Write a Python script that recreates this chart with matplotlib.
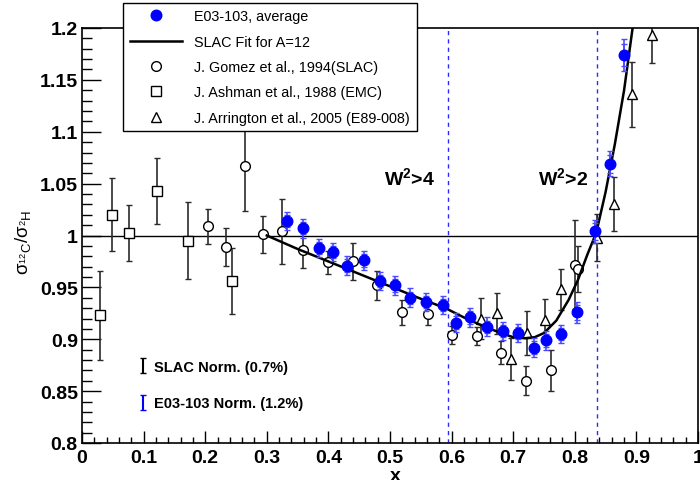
import matplotlib
matplotlib.use("Agg")
import matplotlib.pyplot as plt
from matplotlib.lines import Line2D
from matplotlib.ticker import MultipleLocator, FormatStrFormatter

plt.rcParams['font.family'] = ['Liberation Sans', 'DejaVu Sans']
plt.rcParams['mathtext.fontset'] = 'custom'
plt.rcParams['mathtext.rm'] = 'Liberation Sans'
plt.rcParams['mathtext.it'] = 'Liberation Sans'
plt.rcParams['mathtext.bf'] = 'Liberation Sans:bold'

# J. Ashman et al., 1988 (EMC)
ashman_x = [0.029, 0.049, 0.077, 0.122, 0.172, 0.243]
ashman_y = [0.923, 1.020, 1.002, 1.043, 0.995, 0.956]
ashman_err = [0.043, 0.035, 0.027, 0.032, 0.037, 0.032]

# J. Gomez et al., 1994 (SLAC)
gomez_x = [0.204, 0.234, 0.265, 0.294, 0.324, 0.359, 0.400, 0.440, 0.479,
           0.520, 0.561, 0.600, 0.641, 0.680, 0.721, 0.761, 0.800, 0.806]
gomez_y = [1.009, 0.989, 1.067, 1.001, 1.004, 0.986, 0.974, 0.975, 0.952,
           0.926, 0.924, 0.904, 0.903, 0.887, 0.860, 0.870, 0.972, 0.968]
gomez_err = [0.017, 0.018, 0.043, 0.018, 0.031, 0.017, 0.011, 0.018, 0.014,
             0.012, 0.010, 0.009, 0.009, 0.011, 0.014, 0.020, 0.043, 0.022]

# J. Arrington et al., 2005 (E89-008)
arr_x = [0.647, 0.673, 0.696, 0.723, 0.752, 0.778, 0.836, 0.864, 0.893, 0.925]
arr_y = [0.920, 0.925, 0.881, 0.906, 0.919, 0.948, 0.998, 1.030, 1.136, 1.193]
arr_err = [0.020, 0.020, 0.020, 0.021, 0.020, 0.020, 0.023, 0.026, 0.031, 0.027]

# E03-103, average
e03_x = [0.332, 0.359, 0.384, 0.407, 0.431, 0.457, 0.484, 0.508, 0.533, 0.558,
         0.586, 0.607, 0.630, 0.658, 0.683, 0.708, 0.734, 0.754, 0.778, 0.804,
         0.832, 0.857, 0.880]
e03_y = [1.014, 1.007, 0.988, 0.984, 0.971, 0.976, 0.956, 0.952, 0.940, 0.936,
         0.933, 0.916, 0.921, 0.912, 0.908, 0.906, 0.892, 0.899, 0.905, 0.926,
         1.004, 1.069, 1.174]
e03_err = [0.009, 0.009, 0.009, 0.009, 0.009, 0.009, 0.009, 0.009, 0.009, 0.009,
           0.009, 0.009, 0.009, 0.009, 0.009, 0.009, 0.009, 0.009, 0.009, 0.010,
           0.011, 0.012, 0.015]
e03_stat = [0.006, 0.006, 0.006, 0.006, 0.006, 0.006, 0.006, 0.006, 0.006, 0.006,
            0.006, 0.006, 0.006, 0.006, 0.006, 0.006, 0.006, 0.006, 0.006, 0.007,
            0.008, 0.009, 0.011]

# SLAC fit for A=12
fit_x = [0.30, 0.35, 0.40, 0.45, 0.50, 0.55, 0.59, 0.62, 0.65, 0.68, 0.70, 0.72,
         0.735, 0.75, 0.77, 0.79, 0.805, 0.82, 0.835, 0.85, 0.865, 0.88, 0.895]
fit_y = [1.000, 0.987, 0.975, 0.963, 0.951, 0.939, 0.930, 0.921, 0.913, 0.906,
         0.902, 0.901, 0.902, 0.906, 0.918, 0.938, 0.957, 0.981, 1.003, 1.042,
         1.088, 1.140, 1.205]

w2_cuts = [0.594, 0.836]

fig = plt.figure(figsize=(7.0, 4.81), dpi=100)
ax = fig.add_axes([82 / 700, 37 / 481, 616 / 700, 415 / 481])

ax.axhline(1.0, color='black', lw=1.0, zorder=1)
for xc in w2_cuts:
    ax.axvline(xc, color='#2a2aff', lw=1.0, ls=(0, (3, 3)), zorder=1)

ekw = dict(fmt='none', ecolor='#2b2b2b', elinewidth=1.2, capsize=2.5, capthick=1.0, zorder=2)
ax.errorbar(ashman_x, ashman_y, yerr=ashman_err, **ekw)
ax.errorbar(gomez_x, gomez_y, yerr=gomez_err, **ekw)
ax.errorbar(arr_x, arr_y, yerr=arr_err, **ekw)

ax.plot(ashman_x, ashman_y, 's', ms=6.8, mfc='white', mec='black', mew=1.0, zorder=3)
ax.plot(gomez_x, gomez_y, 'o', ms=7.0, mfc='white', mec='black', mew=1.0, zorder=3)
ax.plot(arr_x, arr_y, '^', ms=7.2, mfc='white', mec='black', mew=1.0, zorder=3)

ax.plot(fit_x, fit_y, color='black', lw=1.8, zorder=4)

bkw = dict(fmt='none', ecolor='#4a4aff', elinewidth=1.2, capsize=2.5, capthick=1.0, zorder=5)
ax.errorbar(e03_x, e03_y, yerr=e03_err, **bkw)
ax.errorbar(e03_x, e03_y, yerr=e03_stat, **bkw)
ax.plot(e03_x, e03_y, 'o', ms=7.6, color='#0000ff', mec='#0000ff', zorder=6)

# normalization markers
ax.errorbar([0.0985], [0.8745], yerr=[0.0075], fmt='none', ecolor='black',
            elinewidth=1.5, capsize=2.3, capthick=1.0)
ax.errorbar([0.0985], [0.8390], yerr=[0.0072], fmt='none', ecolor='#0000ff',
            elinewidth=1.5, capsize=2.3, capthick=1.0)
ax.text(0.117, 0.8735, 'SLAC Norm. (0.7%)', fontsize=10.5, fontweight='bold', va='center')
ax.text(0.117, 0.8385, 'E03-103 Norm. (1.2%)', fontsize=10.5, fontweight='bold', va='center')

ax.text(0.531, 1.056, r'W$^\mathbf{2}$>4', fontsize=14, fontweight='bold', ha='center', va='center')
ax.text(0.781, 1.056, r'W$^\mathbf{2}$>2', fontsize=14, fontweight='bold', ha='center', va='center')

ax.set_xlim(0, 1)
ax.set_ylim(0.8, 1.2)
ax.xaxis.set_major_locator(MultipleLocator(0.1))
ax.xaxis.set_minor_locator(MultipleLocator(0.02))
ax.yaxis.set_major_locator(MultipleLocator(0.05))
ax.yaxis.set_minor_locator(MultipleLocator(0.01))
ax.xaxis.set_major_formatter(FormatStrFormatter('%g'))
ax.yaxis.set_major_formatter(FormatStrFormatter('%g'))
ax.tick_params(axis='y', which='major', direction='in', length=13.5, width=1.0,
               labelsize=14, pad=3)
ax.tick_params(axis='y', which='minor', direction='in', length=7, width=1.0)
ax.tick_params(axis='x', which='major', direction='in', length=8.5, width=1.0,
               labelsize=14, pad=4)
ax.tick_params(axis='x', which='minor', direction='in', length=4.3, width=1.0)
for lab in ax.get_xticklabels() + ax.get_yticklabels():
    lab.set_fontweight('bold')
for sp in ax.spines.values():
    sp.set_linewidth(1.2)

fig.text(23 / 700, 1 - 242 / 481, r'$\sigma_{^{12}C}/\sigma_{^{2}H}$', rotation=90,
         fontsize=13.5, ha='center', va='center')
fig.text(395 / 700, 1 - 468 / 481, 'x', fontsize=14, fontweight='bold', ha='center', va='top')

handles = [
    Line2D([], [], ls='none', marker='o', ms=7.6, color='#0000ff'),
    Line2D([], [], color='black', lw=1.8),
    Line2D([], [], ls='none', marker='o', ms=7.0, mfc='white', mec='black'),
    Line2D([], [], ls='none', marker='s', ms=6.8, mfc='white', mec='black'),
    Line2D([], [], ls='none', marker='^', ms=7.2, mfc='white', mec='black'),
]
labels = ['E03-103, average', 'SLAC Fit for A=12', 'J. Gomez et al., 1994(SLAC)',
          'J. Ashman et al., 1988 (EMC)', 'J. Arrington et al., 2005 (E89-008)']
leg = fig.legend(handles, labels, loc='upper left', bbox_to_anchor=(123 / 700, 1 - 4 / 481),
                 fontsize=10.4, frameon=True, fancybox=False, framealpha=1.0,
                 edgecolor='black', borderpad=0.45, labelspacing=0.78,
                 handlelength=3.6, handletextpad=0.9, borderaxespad=0)
leg.get_frame().set_linewidth(1.0)
leg.set_zorder(10)

fig.savefig('out.png', dpi=100)
